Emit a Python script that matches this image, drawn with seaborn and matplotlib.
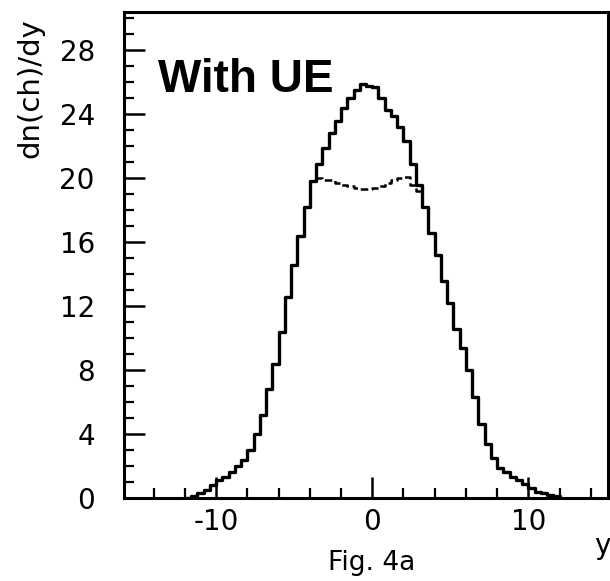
import numpy as np
import pandas as pd
import matplotlib
matplotlib.use("Agg")
import matplotlib.pyplot as plt
from matplotlib.ticker import MultipleLocator
import seaborn as sns

# Rapidity bins (width 0.4) from -12 to 12
bin_edges = [round(-12.0 + 0.4 * i, 2) for i in range(61)]
bin_centers = [(a + b) / 2 for a, b in zip(bin_edges[:-1], bin_edges[1:])]

# dn(ch)/dy with underlying event (solid histogram)
with_ue = [0.0, 0.1, 0.3, 0.5, 0.8, 1.1, 1.3, 1.6, 2.0, 2.4,
           3.0, 4.0, 5.2, 6.8, 8.4, 10.4, 12.6, 14.6, 16.4, 18.2,
           19.8, 20.9, 21.9, 22.8, 23.6, 24.4, 25.0, 25.5, 25.9, 25.8,
           25.7, 25.0, 24.3, 23.9, 23.2, 22.3, 20.9, 19.6, 18.2, 16.6,
           15.2, 13.6, 12.2, 10.6, 9.4, 8.0, 6.3, 4.6, 3.4, 2.5,
           1.9, 1.6, 1.3, 1.1, 0.9, 0.6, 0.4, 0.3, 0.2, 0.1]

# dn(ch)/dy without the central excess (dashed histogram)
without_ue = [0.0, 0.1, 0.3, 0.5, 0.8, 1.1, 1.3, 1.6, 2.0, 2.4,
              3.0, 4.0, 5.2, 6.8, 8.4, 10.4, 12.6, 14.6, 16.4, 18.2,
              19.8, 20.0, 19.9, 19.9, 19.7, 19.6, 19.5, 19.4, 19.3, 19.3,
              19.4, 19.5, 19.7, 19.9, 20.0, 20.1, 19.6, 19.2, 18.2, 16.6,
              15.2, 13.6, 12.2, 10.6, 9.4, 8.0, 6.3, 4.6, 3.4, 2.5,
              1.9, 1.6, 1.3, 1.1, 0.9, 0.6, 0.4, 0.3, 0.2, 0.1]

x_major_ticks = [-10, 0, 10]
y_major_ticks = [0, 4, 8, 12, 16, 20, 24, 28]

df = pd.DataFrame({"y": bin_centers, "with_ue": with_ue, "without_ue": without_ue})

sns.set_style("ticks")
plt.rcParams["font.family"] = ["DejaVu Sans"]
plt.rcParams["axes.unicode_minus"] = False
for key in ["text.color", "axes.labelcolor", "xtick.color", "ytick.color",
            "axes.edgecolor"]:
    plt.rcParams[key] = "black"

fig = plt.figure(figsize=(6.10, 5.81), dpi=100)
ax = fig.add_axes([124 / 610, 1 - 498 / 581, (608 - 124) / 610, (498 - 12) / 581])

sns.histplot(data=df, x="y", weights="without_ue", bins=bin_edges, element="step",
             fill=False, color="black", linewidth=1.8, linestyle=(0, (3, 1.5)), ax=ax,
             zorder=2)
sns.histplot(data=df, x="y", weights="with_ue", bins=bin_edges, element="step",
             fill=False, color="black", linewidth=2.4, ax=ax, zorder=3)

ax.set_xlim(-15.9, 15.1)
ax.set_ylim(0, 30.4)
ax.set_xticks(x_major_ticks)
ax.set_yticks(y_major_ticks)
ax.xaxis.set_minor_locator(MultipleLocator(2))
ax.yaxis.set_minor_locator(MultipleLocator(1))
ax.tick_params(which="major", direction="in", length=15, width=1.8,
               labelsize=20, top=False, right=False, colors="black")
ax.tick_params(which="minor", direction="in", length=7, width=1.6,
               top=False, right=False, colors="black")
ax.tick_params(axis="y", which="major", pad=21)
ax.tick_params(axis="x", which="major", pad=7)
for side in ["left", "bottom", "top", "right"]:
    ax.spines[side].set_visible(True)
    ax.spines[side].set_linewidth(2.2)
    ax.spines[side].set_color("black")

ax.set_xlabel("")
ax.set_ylabel("")

fig.text(30 / 610, 1 - 88 / 581, "dn(ch)/dy", rotation=90, ha="center", va="center",
         fontsize=21)
fig.text(372 / 610, 1 - 563 / 581, "Fig. 4a", ha="center", va="center", fontsize=19)
fig.text(594 / 610, 1 - 546 / 581, "y", ha="left", va="center", fontsize=20)
fig.text(158 / 610, 1 - 92 / 581, "With UE", ha="left", va="baseline",
         fontsize=33, fontweight="bold", family=["Liberation Sans", "DejaVu Sans"])

fig.savefig("out.png", dpi=100)
